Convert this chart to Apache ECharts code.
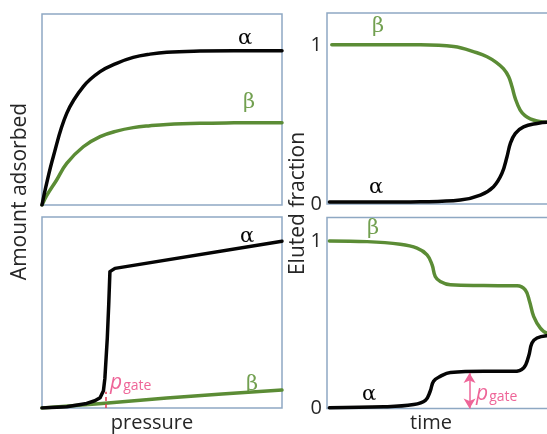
<!DOCTYPE html>
<html>
<head>
<meta charset="utf-8">
<script src="https://cdn.jsdelivr.net/npm/echarts@6/dist/echarts.min.js"></script>
<style>
  html, body { margin: 0; padding: 0; background: #fff; }
  #chart { width: 547px; height: 434px; }
</style>
</head>
<body>
<div id="chart"></div>
<script>
// Adsorption isotherms (left column) and elution / breakthrough curves (right column)
// for the two components α and β. Each curve is a list of [x, y] samples.

// Top left: Langmuir-type isotherms, amount adsorbed vs pressure
const isoAlpha = [[0,0],[1.5,9],[4.7,25.3],[10.3,48],[17.2,62],[24.2,69.8],[31.1,74.2],[38,77.3],[45,79],[52,80],[65.8,80.6],[80,80.8],[100,80.8]];
const isoBeta  = [[0,0],[2,5],[6.1,13.1],[10.3,21.8],[17.2,30.5],[24.2,35.8],[31.1,38.7],[38,40.5],[45,41.5],[52,42.2],[65.8,42.8],[80,43],[100,43.1]];

// Bottom left: gate-opening isotherm for α, weak linear uptake for β
const gateAlpha = [[0,0],[10.3,0.7],[18.6,2.4],[22,3.8],[24.2,5.4],[25.6,9],[26.2,15.5],[27.2,36.5],[27.8,54],[28.3,71.4],[30.4,73.1],[100,87.3]];
const gateBeta  = [[0,0],[25,2.3],[52,5.2],[75,7.3],[100,9.4]];
const gatePressure = [[26.7,0],[26.7,8.5]];

// Top right: eluted fraction vs time, single breakthrough
const eluteBetaTop  = [[2,1.0],[20,1.0],[38.9,1.0],[52.8,0.99],[62.5,0.95],[66.7,0.925],[70.5,0.89],[73.5,0.85],[75.7,0.8],[77.1,0.736],[78.5,0.66],[80.5,0.59],[82.5,0.555],[84.7,0.535],[87.5,0.522],[91.8,0.513],[100,0.51]];
const eluteAlphaTop = [[1,0.012],[20,0.012],[38.9,0.014],[55.5,0.025],[63.9,0.056],[69.4,0.109],[72.9,0.193],[75,0.297],[76.4,0.381],[78.5,0.444],[81.9,0.485],[87.5,0.506],[91.8,0.513],[100,0.51]];

// Bottom right: eluted fraction vs time, two-step breakthrough
const eluteBetaBot  = [[1,1.0],[16.7,0.996],[30.5,0.98],[37.5,0.957],[41.7,0.917],[43.8,0.857],[45.1,0.788],[47.2,0.758],[51.4,0.738],[65.3,0.734],[79.2,0.732],[82.6,0.708],[84.4,0.639],[86.1,0.55],[88.9,0.48],[91.7,0.45],[100,0.44]];
const eluteAlphaBot = [[1,0.005],[23.6,0.01],[36.1,0.024],[41,0.049],[43,0.103],[44.4,0.163],[47.2,0.192],[51.4,0.215],[65.3,0.222],[77.8,0.222],[81.9,0.242],[84,0.311],[85.4,0.391],[87.5,0.421],[91.7,0.435],[100,0.44]];
const gateStep = [[59.4,0],[59.4,0.212]];

const fractionTicks = [0, 1];

const BLACK = '#050505';
const GREEN = '#5b8c35';
const GREEN_TEXT = '#72a050';
const PINK = '#ee6598';
const RED_DASH = '#e4364f';
const BORDER = '#8ea8c3';
const TEXT = '#262626';
const SANS = '"Open Sans", "Liberation Sans", sans-serif';
const GREEK = '"DejaVu Serif", serif';

const chart = echarts.init(document.getElementById('chart'), null, { renderer: 'canvas' });

// Each panel keeps its full 240 px width even where it runs past the right edge.
const panel = (left, top) => ({
  left, top, width: 240, height: 191,
  outerBoundsMode: 'none', containLabel: false,
  show: true, borderColor: BORDER, borderWidth: 1.5, backgroundColor: 'transparent'
});

const hiddenX = (i) => ({ type: 'value', gridIndex: i, min: 0, max: 100, show: false });
const hiddenY = (i) => ({ type: 'value', gridIndex: i, min: 0, max: 100, show: false });
const fractionY = (i, max) => ({
  type: 'value', gridIndex: i, min: 0, max, interval: 1,
  axisLine: { show: false }, axisTick: { show: false }, splitLine: { show: false },
  axisLabel: {
    margin: 5, color: TEXT, fontFamily: SANS, fontSize: 20,
    formatter: v => (fractionTicks.indexOf(v) >= 0 ? String(v) : '')
  }
});

const curve = (data, color, gi, smooth) => ({
  type: 'line', data, xAxisIndex: gi, yAxisIndex: gi,
  showSymbol: false, symbol: 'none', smooth: smooth ? 0.4 : false,
  silent: true, animation: false,
  lineStyle: { color, width: 3.5, cap: 'round', join: 'round' }
});

const greek = (text, x, y, color) => ({
  type: 'text', x, y, silent: true,
  style: { text, fill: color, font: '21px ' + GREEK, align: 'center', verticalAlign: 'middle' }
});

const option = {
  backgroundColor: '#fff',
  animation: false,
  grid: [panel(42, 14), panel(42, 217), panel(327, 13), panel(327, 217.5)],
  xAxis: [hiddenX(0), hiddenX(1), hiddenX(2), hiddenX(3)],
  yAxis: [hiddenY(0), hiddenY(1), fractionY(2, 1.2), fractionY(3, 1.14)],
  series: [
    curve(isoBeta, GREEN, 0, true),
    curve(isoAlpha, BLACK, 0, true),
    Object.assign(curve(gateBeta, GREEN, 1, false), {
      markLine: {
        silent: true, symbol: 'none', animation: false,
        label: { show: false },
        lineStyle: { color: RED_DASH, width: 1.5, type: [4, 3] },
        data: [[{ coord: gatePressure[0] }, { coord: gatePressure[1] }]]
      }
    }),
    curve(gateAlpha, BLACK, 1, false),
    curve(eluteBetaTop, GREEN, 2, true),
    curve(eluteAlphaTop, BLACK, 2, true),
    curve(eluteBetaBot, GREEN, 3, true),
    Object.assign(curve(eluteAlphaBot, BLACK, 3, true), {
      markLine: {
        silent: true, symbol: ['arrow', 'arrow'], symbolSize: [9, 10], animation: false,
        label: { show: false },
        lineStyle: { color: PINK, width: 1.5, type: 'solid' },
        data: [[{ coord: gateStep[0] }, { coord: gateStep[1] }]]
      }
    })
  ],
  graphic: [
    // axis titles
    { type: 'text', x: 20, y: 191.5, rotation: Math.PI / 2, silent: true,
      style: { text: 'Amount adsorbed', fill: TEXT, font: '21px ' + SANS, align: 'center', verticalAlign: 'middle' } },
    { type: 'text', x: 298, y: 203.5, rotation: Math.PI / 2, silent: true,
      style: { text: 'Eluted fraction', fill: TEXT, font: '21px ' + SANS, align: 'center', verticalAlign: 'middle' } },
    { type: 'text', x: 152, y: 423, silent: true,
      style: { text: 'pressure', fill: TEXT, font: '20px ' + SANS, align: 'center', verticalAlign: 'middle' } },
    { type: 'text', x: 431, y: 423, silent: true,
      style: { text: 'time', fill: TEXT, font: '20px ' + SANS, align: 'center', verticalAlign: 'middle' } },
    // curve names
    greek('α', 245, 39, BLACK),
    greek('β', 249, 103, GREEN_TEXT),
    greek('α', 247, 237, BLACK),
    greek('β', 252, 385, GREEN_TEXT),
    greek('β', 378, 27, GREEN_TEXT),
    greek('α', 376, 188, BLACK),
    greek('β', 373, 229, GREEN_TEXT),
    greek('α', 369, 395, BLACK),
    // p_gate annotations
    { type: 'text', x: 110, y: 383, silent: true,
      style: { text: '{p|p}{g|gate}', fill: PINK, align: 'left', verticalAlign: 'middle',
        rich: { p: { font: 'italic 21px ' + SANS, fill: PINK }, g: { font: '14px ' + SANS, fill: PINK, padding: [6, 0, 0, 1] } } } },
    { type: 'text', x: 476, y: 394, silent: true,
      style: { text: '{p|p}{g|gate}', fill: PINK, align: 'left', verticalAlign: 'middle',
        rich: { p: { font: 'italic 21px ' + SANS, fill: PINK }, g: { font: '14px ' + SANS, fill: PINK, padding: [6, 0, 0, 1] } } } }
  ]
};

chart.setOption(option);
</script>
</body>
</html>
